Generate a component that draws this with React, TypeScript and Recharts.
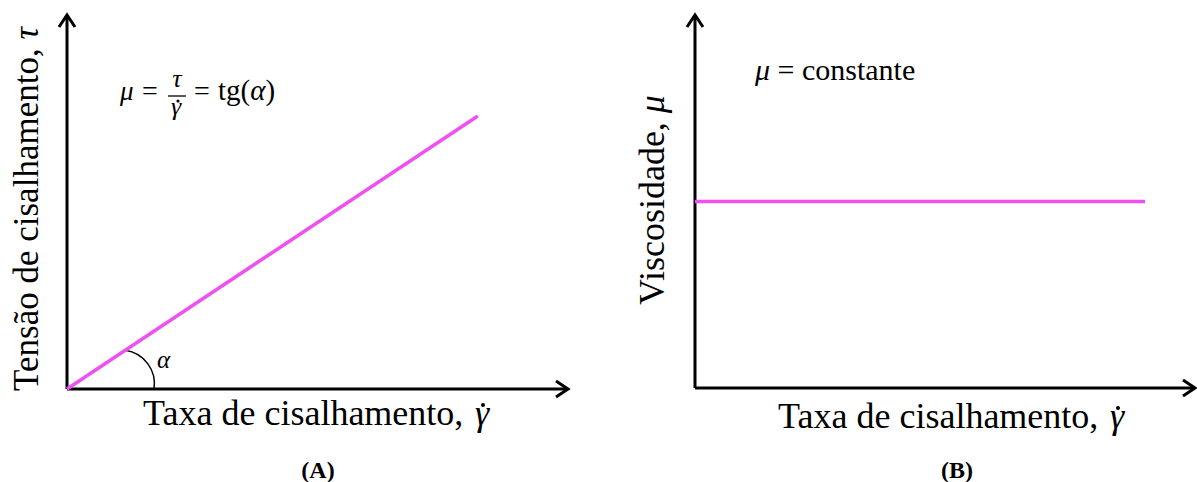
import { LineChart, Line, XAxis, YAxis, ReferenceLine, Customized } from 'recharts';

// (A) shear stress vs shear rate, straight line through the origin
const shearRateA = [0, 8.2];
const shearStressA = [0, 7.3];

// (B) viscosity vs shear rate, constant
const shearRateB = [0, 9.0];
const viscosityB = [5.0, 5.0];

const AXIS_MAX = 10;

const MAGENTA = '#F050F0';
const SERIF = 'Liberation Serif, Times New Roman, serif';

const dataA = shearRateA.map((x, i) => ({ x, y: shearStressA[i] }));
const dataB = shearRateB.map((x, i) => ({ x, y: viscosityB[i] }));

// axis line with an open arrow head at its far end
const AxisArrow = (props: any) => {
  const { x1, y1, x2, y2 } = props;
  const ang = Math.atan2(y2 - y1, x2 - x1);
  const back = 12;
  const side = 8;
  const bx = x2 - back * Math.cos(ang);
  const by = y2 - back * Math.sin(ang);
  const px = -Math.sin(ang) * side;
  const py = Math.cos(ang) * side;
  return (
    <g>
      <line x1={x1} y1={y1} x2={x2} y2={y2} stroke="#000" strokeWidth={3} />
      <polyline
        points={`${bx + px},${by + py} ${x2},${y2} ${bx - px},${by - py}`}
        fill="none"
        stroke="#000"
        strokeWidth={3}
      />
    </g>
  );
};

// small arc marking the angle between the line and the x axis
const AngleArc = (props: any) => {
  const { x1, y1, x2, y2 } = props;
  const ang = Math.atan2(y2 - y1, x2 - x1);
  const sx = x1 + 70 * Math.cos(ang);
  const sy = y1 + 70 * Math.sin(ang);
  const ex = x1 + 87;
  const ey = y1;
  return (
    <g>
      <path d={`M ${sx} ${sy} A 34 34 0 0 1 ${ex} ${ey}`} fill="none" stroke="#000" strokeWidth={1.5} />
      <text x={ex + 3} y={ey - 21} fontFamily={SERIF} fontStyle="italic" fontSize={25} fill="#000">
        α
      </text>
    </g>
  );
};

const T = ({ children, size = 35, italic = false, bold = false, ...rest }: any) => (
  <text
    fontFamily={SERIF}
    fontSize={size}
    fontStyle={italic ? 'italic' : 'normal'}
    fontWeight={bold ? 'bold' : 'normal'}
    fill="#000"
    {...rest}
  >
    {children}
  </text>
);

// "Taxa de cisalhamento, γ̇" with the dot placed over the gamma by hand
const RateLabel = ({ x, y }: { x: number; y: number }) => (
  <g>
    <T x={x} y={y} size={36}>Taxa de cisalhamento,</T>
    <T x={x + 332} y={y} size={36} italic>γ</T>
    <circle cx={x + 340} cy={y - 20} r={2} fill="#000" />
  </g>
);

const LabelsA = () => (
  <g>
    <T x={38} y={209} textAnchor="middle" transform="rotate(-90, 38, 209)">
      Tensão de cisalhamento, <tspan fontStyle="italic">τ</tspan>
    </T>
    <RateLabel x={143} y={425} />
    <T x={318} y={478} size={24} bold textAnchor="middle">(A)</T>
    <T x={120} y={100} size={27} italic>μ</T>
    <T x={142} y={100} size={28}>=</T>
    <T x={177} y={87} size={26} italic textAnchor="middle">τ</T>
    <line x1={168} y1={96} x2={186} y2={96} stroke="#000" strokeWidth={1.3} />
    <T x={176} y={115} size={26} italic textAnchor="middle">γ</T>
    <circle cx={178} cy={101} r={1.6} fill="#000" />
    <T x={194} y={100} size={28}>=</T>
    <T x={218} y={100} size={29}>
      tg(<tspan fontStyle="italic">α</tspan>)
    </T>
  </g>
);

const LabelsB = () => (
  <g>
    <T x={64} y={200} size={36} textAnchor="middle" transform="rotate(-90, 64, 200)">
      Viscosidade, <tspan fontStyle="italic">μ</tspan>
    </T>
    <RateLabel x={178} y={428} />
    <T x={357} y={478} size={24} bold textAnchor="middle">(B)</T>
    <T x={155} y={80} size={30}>
      <tspan fontStyle="italic">μ</tspan> = constante
    </T>
  </g>
);

export default function App() {
  return (
    <div style={{ position: 'absolute', left: 0, top: 0, width: 1197, height: 482, background: '#fff' }}>
      <div style={{ position: 'absolute', left: 0, top: 0 }}>
        <LineChart width={600} height={482} data={dataA} margin={{ top: 15, left: 67, right: 32, bottom: 93 }}>
          <XAxis type="number" dataKey="x" domain={[0, AXIS_MAX]} hide />
          <YAxis type="number" domain={[0, AXIS_MAX]} hide />
          <ReferenceLine segment={[{ x: 0, y: 0 }, { x: AXIS_MAX, y: 0 }]} shape={AxisArrow} ifOverflow="visible" />
          <ReferenceLine segment={[{ x: 0, y: 0 }, { x: 0, y: AXIS_MAX }]} shape={AxisArrow} ifOverflow="visible" />
          <ReferenceLine
            segment={[
              { x: shearRateA[0], y: shearStressA[0] },
              { x: shearRateA[1], y: shearStressA[1] },
            ]}
            shape={AngleArc}
            ifOverflow="visible"
          />
          <Line
            type="linear"
            dataKey="y"
            stroke={MAGENTA}
            strokeWidth={3.5}
            dot={false}
            activeDot={false}
            isAnimationActive={false}
          />
          <Customized component={LabelsA} />
        </LineChart>
      </div>
      <div style={{ position: 'absolute', left: 600, top: 0 }}>
        <LineChart width={597} height={482} data={dataB} margin={{ top: 15, left: 95, right: 2, bottom: 94 }}>
          <XAxis type="number" dataKey="x" domain={[0, AXIS_MAX]} hide />
          <YAxis type="number" domain={[0, AXIS_MAX]} hide />
          <ReferenceLine segment={[{ x: 0, y: 0 }, { x: AXIS_MAX, y: 0 }]} shape={AxisArrow} ifOverflow="visible" />
          <ReferenceLine segment={[{ x: 0, y: 0 }, { x: 0, y: AXIS_MAX }]} shape={AxisArrow} ifOverflow="visible" />
          <Line
            type="linear"
            dataKey="y"
            stroke={MAGENTA}
            strokeWidth={3.5}
            dot={false}
            activeDot={false}
            isAnimationActive={false}
          />
          <Customized component={LabelsB} />
        </LineChart>
      </div>
    </div>
  );
}
